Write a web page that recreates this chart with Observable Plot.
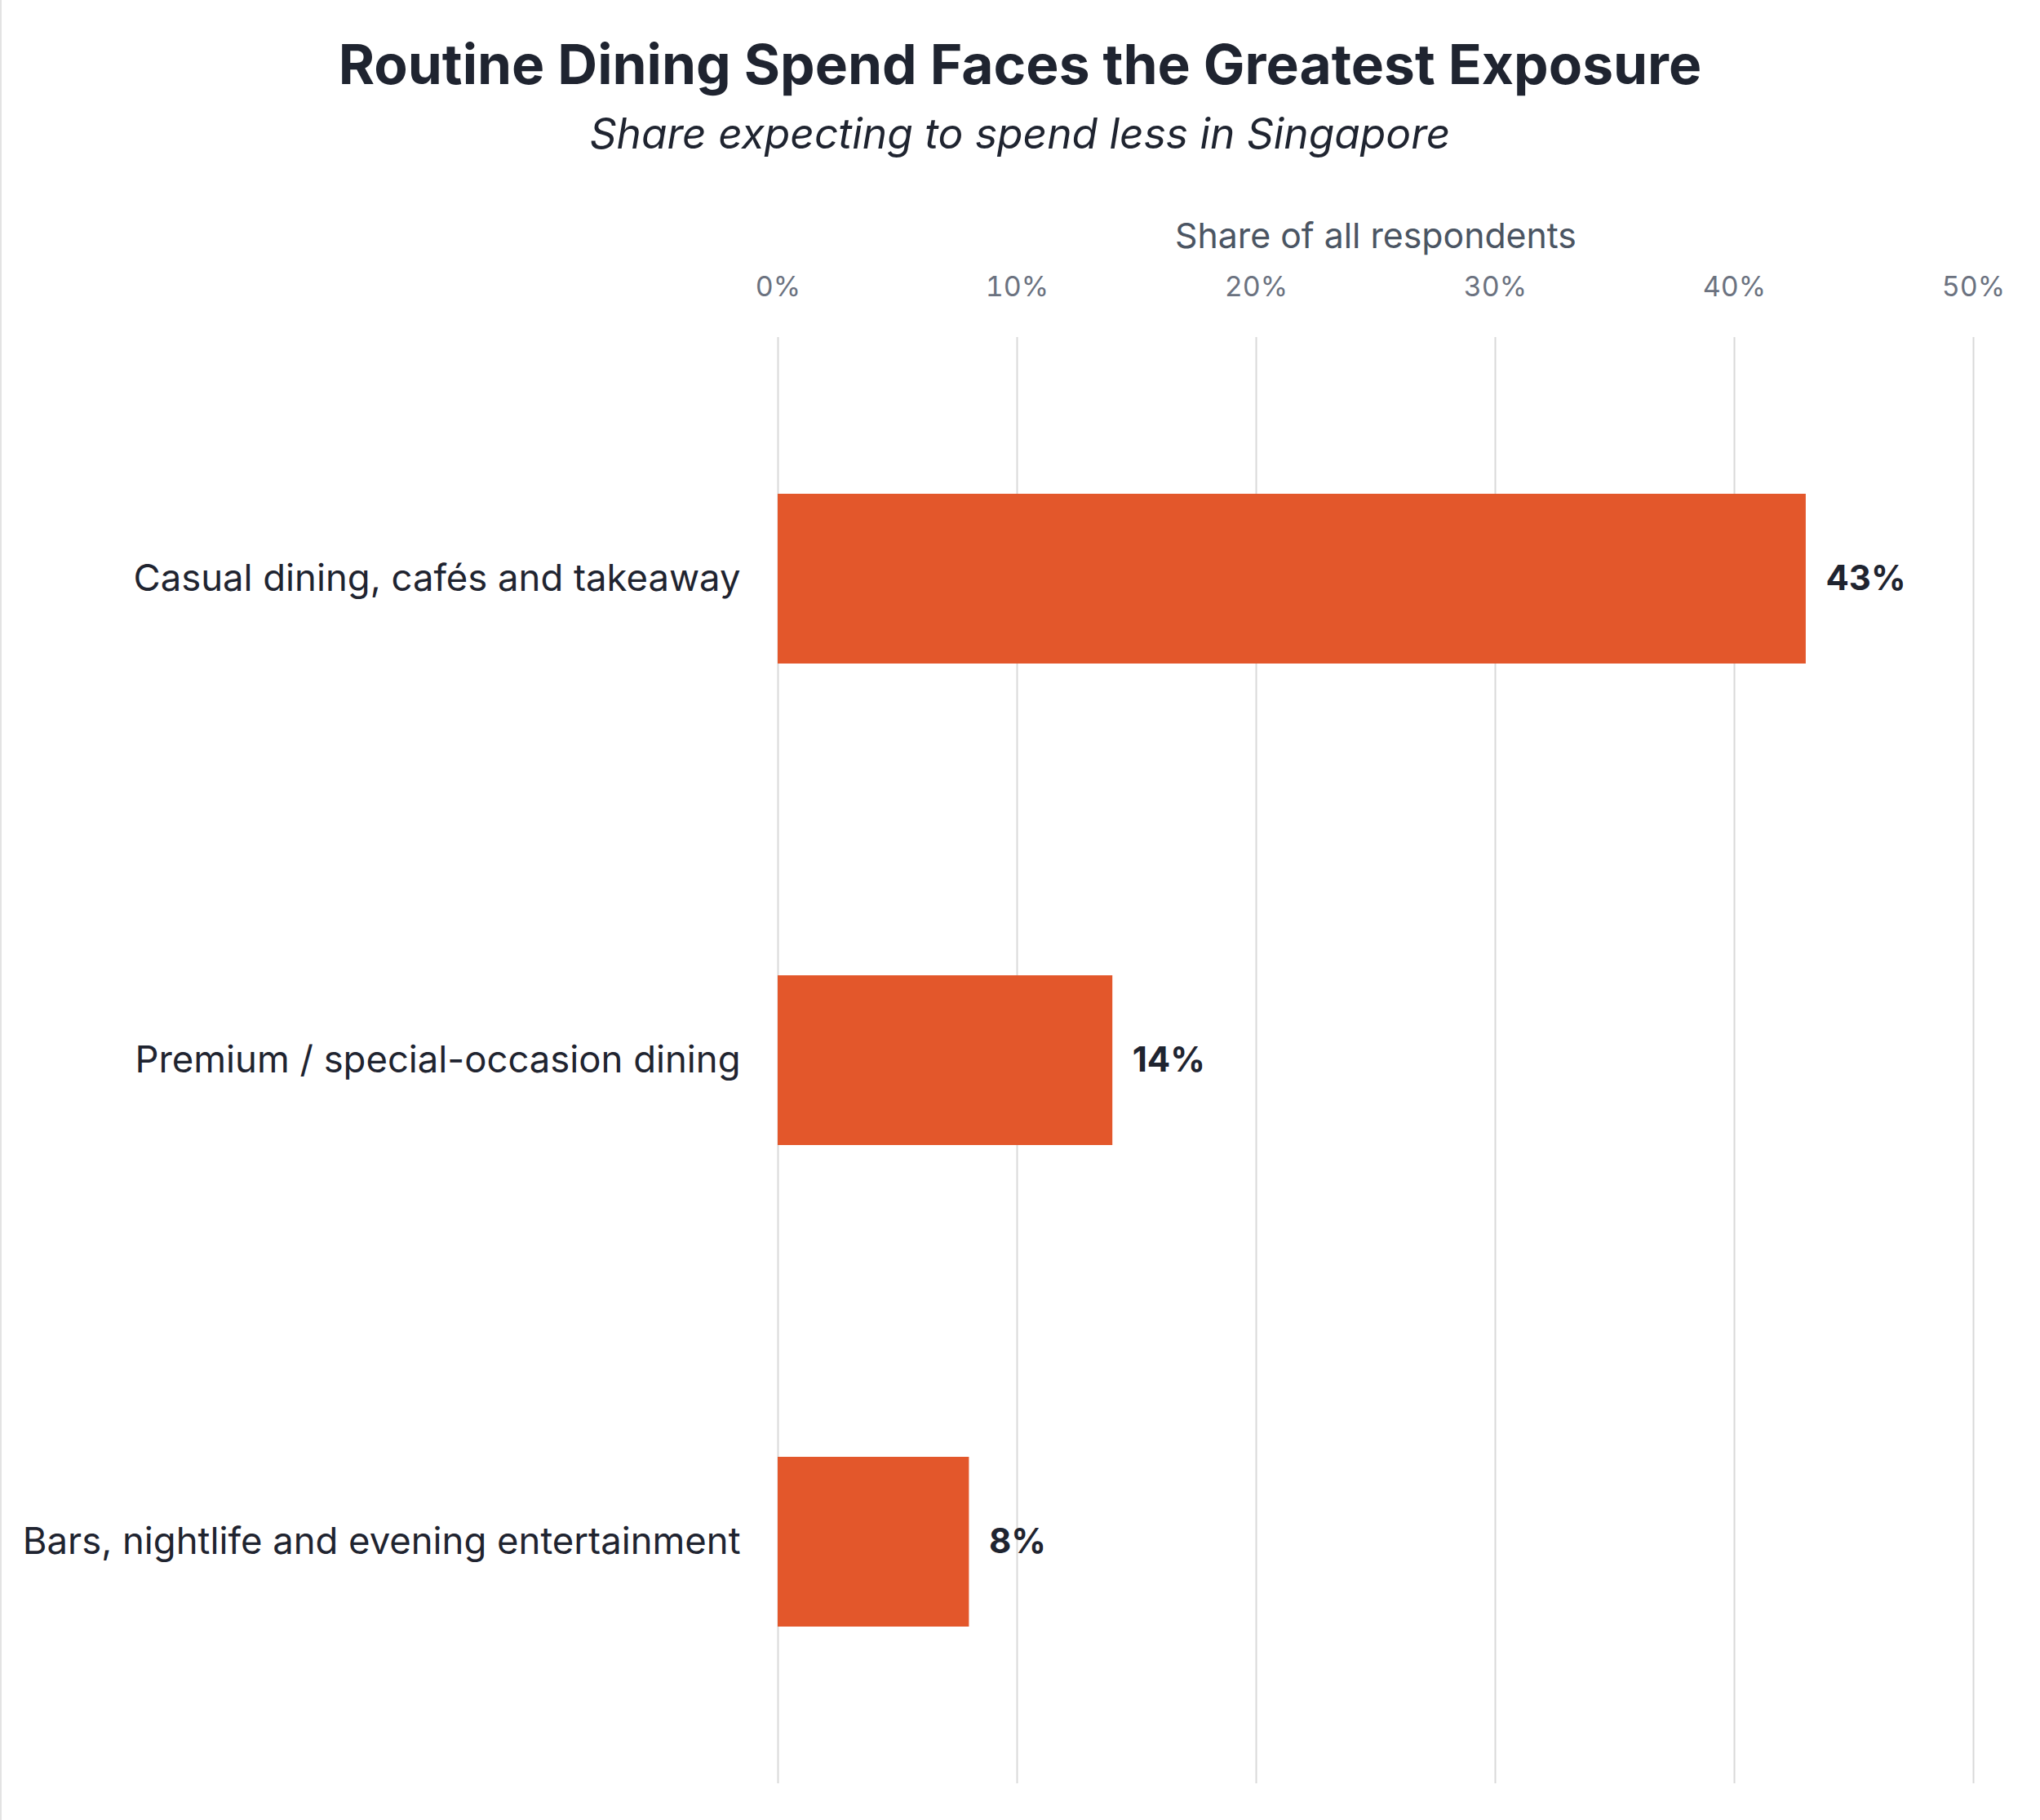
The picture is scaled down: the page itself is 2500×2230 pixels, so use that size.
<!DOCTYPE html>
<html><head><meta charset="utf-8">
<script src="https://cdn.jsdelivr.net/npm/d3@7"></script>
<script src="https://cdn.jsdelivr.net/npm/@observablehq/plot@0.6"></script>
<style>
html,body{margin:0;padding:0;background:#fff;}
body{width:2500px;height:2230px;position:relative;overflow:hidden;font-family:Inter,sans-serif;}
#edge{position:absolute;left:0;top:0;width:2px;height:2230px;background:#e3e3e3;}
#header{position:absolute;left:0;top:0;}
#chart{position:absolute;left:0;top:230px;}
</style></head><body>
<div id="edge"></div>
<svg id="header" width="2500" height="230"></svg>
<div id="chart"></div>
<script>
const titleText = "Routine Dining Spend Faces the Greatest Exposure";
const subtitleText = "Share expecting to spend less in Singapore";
const xLabel = "Share of all respondents";
const categories = [
  "Casual dining, cafés and takeaway",
  "Premium / special-occasion dining",
  "Bars, nightlife and evening entertainment"
];
const values = [43, 14, 8];
const xTicks = [0, 10, 20, 30, 40, 50];

const ctx = document.createElement("canvas").getContext("2d");
function fit(text, weight, style, target) {
  ctx.font = `${style} ${weight} 100px Inter`;
  return 100 * target / ctx.measureText(text).width;
}
const titleSize = fit(titleText, 700, "normal", 1671);
const subSize = fit(subtitleText, 400, "italic", 1055);
const axisLabelSize = fit(xLabel, 400, "normal", 492);
const catSize = fit(categories[2], 400, "normal", 880);

const NS = "http://www.w3.org/2000/svg";
const header = document.getElementById("header");
function addText(txt, y, size, weight, style, color) {
  const t = document.createElementNS(NS, "text");
  t.setAttribute("x", 1250);
  t.setAttribute("y", y);
  t.setAttribute("text-anchor", "middle");
  t.setAttribute("font-family", "Inter, sans-serif");
  t.setAttribute("font-size", size);
  t.setAttribute("font-weight", weight);
  t.setAttribute("font-style", style);
  t.setAttribute("fill", color);
  t.textContent = txt;
  header.appendChild(t);
}
addText(titleText, 103, titleSize, 700, "normal", "#1f2430");
addText(subtitleText, 182, subSize, 400, "italic", "#1f2430");

const data = categories.map((c, i) => ({category: c, value: values[i]}));

const plot = Plot.plot({
  width: 2500,
  height: 2000,
  marginTop: 183,
  marginBottom: 45,
  marginLeft: 953,
  marginRight: 82,
  style: {fontFamily: "Inter, sans-serif", background: "transparent"},
  x: {domain: [0, 50], label: null},
  y: {domain: categories, paddingInner: 0.647, paddingOuter: 0.3235, label: null},
  marks: [
    Plot.gridX(xTicks, {stroke: "#d9d9d9", strokeOpacity: 1, strokeWidth: 2}),
    Plot.axisX(xTicks, {anchor: "top", tickSize: 0, tickPadding: 51, fontSize: 34, color: "#6b7280", tickFormat: d => d + "%", label: null}),
    Plot.axisY({anchor: "left", tickSize: 0, tickPadding: 46, fontSize: catSize, color: "#1f2430", label: null}),
    Plot.barX(data, {x: "value", y: "category", fill: "#E3572B"}),
    Plot.text(data, {x: "value", y: "category", text: d => d.value + "%", dx: 24, textAnchor: "start", fontSize: 42, fontWeight: 700, fill: "#1f2430"}),
    Plot.text([xLabel], {frameAnchor: "top", dy: -110, lineAnchor: "bottom", text: d => d, fontSize: axisLabelSize, fill: "#4b5563"})
  ]
});
document.getElementById("chart").appendChild(plot);
</script>
</body></html>
